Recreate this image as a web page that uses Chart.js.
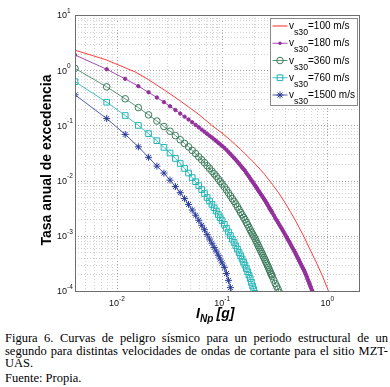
<!DOCTYPE html>
<html lang="es">
<head>
  <meta charset="UTF-8" />
  <title>Curvas de peligro sísmico</title>
  <script src="https://cdn.jsdelivr.net/npm/chart.js@4.4.1/dist/chart.umd.min.js"></script>
  <style>
    body {
      margin: 0;
      background: #fff;
      width: 390px;
      height: 387px;
      overflow: hidden;
      position: relative;
    }
    #chart { position: absolute; left: 0; top: 0; }
    .cap {
      position: absolute;
      left: 5px;
      width: 383px;
      font-family: 'Liberation Serif', 'Times New Roman', serif;
      font-size: 12.5px;
      line-height: 13px;
      color: #000;
    }
    .just { text-align: justify; text-align-last: justify; }
  </style>
</head>
<body>
  <canvas id="chart" width="390" height="325"></canvas>
  <div class="cap just" style="top:332px">Figura 6. Curvas de peligro sísmico para un periodo estructural de un</div>
  <div class="cap just" style="top:345px">segundo para distintas velocidades de ondas de cortante para el sitio MZT-</div>
  <div class="cap" style="top:357px">UAS.</div>
  <div class="cap" style="top:372px">Fuente: Propia.</div>

  <script>
    // intensity grid [g] shared by the marked curves
    const intensities = [
      0.004, 0.008, 0.012, 0.016, 0.020, 0.024, 0.028, 0.032, 0.036, 0.040,
      0.044, 0.048, 0.052, 0.056, 0.060, 0.064, 0.068, 0.072, 0.076, 0.080,
      0.084, 0.088, 0.092, 0.096, 0.100,
      0.105, 0.110, 0.115, 0.120, 0.125, 0.130, 0.135, 0.140, 0.145, 0.150,
      0.155, 0.160, 0.165, 0.170, 0.175, 0.180, 0.185, 0.190, 0.195, 0.200,
      0.205, 0.210, 0.215, 0.220, 0.225, 0.230, 0.235, 0.240, 0.245, 0.250,
      0.255, 0.260, 0.265, 0.270, 0.275, 0.280, 0.285, 0.290, 0.295, 0.300,
      0.31, 0.32, 0.33, 0.34, 0.35, 0.36, 0.37, 0.38, 0.39, 0.40,
      0.41, 0.42, 0.43, 0.44, 0.45, 0.46, 0.47, 0.48, 0.49, 0.50,
      0.51, 0.52, 0.53, 0.54, 0.55, 0.56, 0.57, 0.58, 0.59, 0.60,
      0.61, 0.62, 0.63, 0.64, 0.65, 0.66, 0.67, 0.68, 0.69, 0.70,
      0.71, 0.72
    ];

    // vs30 = 100 m/s (line only, own grid)
    const intensities100 = [0.004, 0.006, 0.008, 0.01, 0.015, 0.02, 0.03, 0.04, 0.05, 0.06,
      0.08, 0.1, 0.12, 0.15, 0.2, 0.25, 0.3, 0.35, 0.4, 0.45, 0.5, 0.6, 0.7, 0.8, 0.9, 1.0, 1.03];
    const rate100 = [2.30, 1.82, 1.53, 1.28, 0.925, 0.674, 0.405, 0.278, 0.204, 0.158,
      0.0999, 0.0724, 0.0541, 0.0367, 0.0214, 0.0134, 0.00858, 0.00574, 0.00386, 0.00264,
      0.00186, 0.000961, 0.000518, 0.000305, 0.000186, 0.000113, 0.0000975];

    const rate180 = [
      1.89, 1.04, 0.697, 0.514, 0.398, 0.320, 0.264, 0.222, 0.190, 0.164,
      0.144, 0.128, 0.114, 0.102, 0.0923, 0.0838, 0.0768, 0.0704, 0.0650, 0.0603,
      0.0559, 0.0521, 0.0485, 0.0454, 0.0424,
      0.0394, 0.0361, 0.0329, 0.0303, 0.0278, 0.0257, 0.0238, 0.0219, 0.0203, 0.0187,
      0.0173, 0.0161, 0.0151, 0.0138, 0.01275, 0.01183, 0.01093, 0.01013, 0.00944, 0.00883,
      0.00826, 0.00769, 0.00720, 0.00671, 0.00630, 0.00591, 0.00555, 0.00526, 0.00494, 0.00466,
      0.00441, 0.00415, 0.00391, 0.00367, 0.00346, 0.00325, 0.00307, 0.00291, 0.00277, 0.00261,
      0.00235, 0.00211, 0.00191, 0.00174, 0.00159, 0.00145, 0.00133, 0.00122, 0.00112, 0.00103,
      0.000945, 0.000870, 0.000804, 0.000745, 0.000686, 0.000636, 0.000590, 0.000552, 0.000512, 0.000475,
      0.000440, 0.000408, 0.000382, 0.000354, 0.000329, 0.000307, 0.000288, 0.000269, 0.000254, 0.000237,
      0.000222, 0.000207, 0.000192, 0.000178, 0.000163, 0.000153, 0.000142, 0.000132, 0.000122, 0.000115,
      0.000106, 0.0000996
    ];

    const rate360 = [
      1.08, 0.499, 0.303, 0.210, 0.155, 0.120, 0.0954, 0.0784, 0.0653, 0.0550,
      0.0471, 0.0409, 0.0352, 0.0308, 0.0269, 0.0238, 0.0211, 0.0186, 0.0166, 0.0148,
      0.0133, 0.0120, 0.0107, 0.00964, 0.00868,
      0.00769, 0.00679, 0.00596, 0.00528, 0.00470, 0.00420, 0.00374, 0.00334, 0.00298, 0.00265,
      0.00239, 0.00216, 0.00196, 0.00175, 0.00158, 0.00142, 0.00128, 0.00117, 0.00107, 0.000974,
      0.000892, 0.000810, 0.000736, 0.000669, 0.000612, 0.000561, 0.000514, 0.000475, 0.000435, 0.000402,
      0.000371, 0.000340, 0.000315, 0.000289, 0.000268, 0.000245, 0.000228, 0.000210, 0.000197, 0.000182,
      0.000158, 0.000137, 0.000122, 0.000108, 0.0000947
    ];

    const rate760 = [
      0.620, 0.263, 0.151, 0.0999, 0.0710, 0.0528, 0.0400, 0.0316, 0.0252, 0.0204,
      0.0166, 0.0137, 0.01135, 0.00956, 0.00812, 0.00687, 0.00584, 0.00494, 0.00427, 0.00370,
      0.00321, 0.00281, 0.00243, 0.00213, 0.00188,
      0.00161, 0.00137, 0.00117, 0.00101, 0.000870, 0.000758, 0.000657, 0.000573, 0.000497, 0.000433,
      0.000379, 0.000334, 0.000295, 0.000255, 0.000223, 0.000194, 0.000168, 0.000143, 0.000123, 0.000106,
      0.0000908
    ];

    const rate1500 = [
      0.359, 0.133, 0.0686, 0.0409, 0.0264, 0.0183, 0.0137, 0.0102, 0.00779, 0.00604,
      0.00472, 0.00370, 0.00293, 0.00236, 0.00191, 0.00155, 0.00129, 0.00105, 0.000873, 0.000733,
      0.000615, 0.000527, 0.000444, 0.000380, 0.000322,
      0.000268, 0.000207, 0.000156, 0.000115, 0.0000850
    ];

    const legendValues = ['=100 m/s', '=180 m/s', '=360 m/s', '=760 m/s', '=1500 m/s'];
    const xDecades = [0.001, 0.01, 0.1, 1];
    const yDecades = [0.0001, 0.001, 0.01, 0.1, 1, 10];
    const xTickExp = ['-2', '-1', '0'];
    const yTickExp = ['-4', '-3', '-2', '-1', '0', '1'];

    const FONT = "'Liberation Sans', Arial, sans-serif";

    const series = [
      { color: '#ff2626', line: '#ff2626', style: false, radius: 0, width: 0.9 },
      { color: '#93309c', line: '#a44aae', style: 'circle', radius: 1.7, fill: true, width: 1 },
      { color: '#3a7a5b', line: '#5b987a', style: 'circle', radius: 3.3, fill: false, width: 1 },
      { color: '#20b4b4', line: '#3bc0c0', style: 'rect', radius: 4, fill: false, width: 1 },
      { color: '#2c3c9c', line: '#4b5bab', style: 'star', radius: 3.5, fill: false, width: 1 }
    ];

    function toPoints(xs, ys) {
      return ys.map((y, i) => ({ x: xs[i], y: y }));
    }

    function isDecade(v) {
      const l = Math.log10(v);
      return Math.abs(l - Math.round(l)) < 1e-6;
    }

    function gridValues(decades, min, max) {
      const out = [];
      decades.forEach(d => {
        for (let m = 1; m < 10; m++) {
          const v = d * m;
          if (v > min * 1.0001 && v < max * 0.9999) out.push(v);
        }
      });
      return out;
    }

    function drawMarker(ctx, s, x, y) {
      ctx.save();
      ctx.strokeStyle = s.color;
      ctx.fillStyle = s.color;
      ctx.lineWidth = 1;
      ctx.beginPath();
      if (s.style === 'circle') {
        ctx.arc(x, y, s.radius, 0, Math.PI * 2);
        if (s.fill) ctx.fill(); else ctx.stroke();
      } else if (s.style === 'rect') {
        const h = s.radius * Math.SQRT1_2;
        ctx.rect(x - h, y - h, 2 * h, 2 * h);
        ctx.stroke();
      } else if (s.style === 'star') {
        const r = s.radius;
        const d = r * Math.SQRT1_2;
        ctx.moveTo(x - r, y); ctx.lineTo(x + r, y);
        ctx.moveTo(x, y - r); ctx.lineTo(x, y + r);
        ctx.moveTo(x - d, y - d); ctx.lineTo(x + d, y + d);
        ctx.moveTo(x - d, y + d); ctx.lineTo(x + d, y - d);
        ctx.stroke();
      }
      ctx.restore();
    }

    const matlabAxes = {
      id: 'matlabAxes',
      beforeDatasetsDraw(chart) {
        const { ctx, chartArea: a, scales: { x, y } } = chart;
        ctx.save();
        ctx.lineWidth = 1;
        ctx.setLineDash([1, 2]);
        gridValues(xDecades, x.min, x.max).forEach(v => {
          const px = Math.round(x.getPixelForValue(v)) + 0.5;
          ctx.strokeStyle = isDecade(v) ? '#a3a3a3' : '#d2d2d2';
          ctx.beginPath(); ctx.moveTo(px, a.top); ctx.lineTo(px, a.bottom); ctx.stroke();
        });
        gridValues(yDecades, y.min, y.max).forEach(v => {
          const py = Math.round(y.getPixelForValue(v)) + 0.5;
          ctx.strokeStyle = isDecade(v) ? '#a3a3a3' : '#d2d2d2';
          ctx.beginPath(); ctx.moveTo(a.left, py); ctx.lineTo(a.right, py); ctx.stroke();
        });
        ctx.restore();
      },
      afterDatasetsDraw(chart) {
        const { ctx, chartArea: a, scales: { x, y } } = chart;
        ctx.save();

        // box
        ctx.strokeStyle = '#6e6e6e';
        ctx.lineWidth = 1;
        ctx.strokeRect(Math.round(a.left) + 0.5, Math.round(a.top) + 0.5,
          Math.round(a.right - a.left), Math.round(a.bottom - a.top));

        // tick labels 10^n
        ctx.fillStyle = '#111';
        ctx.textBaseline = 'alphabetic';
        ctx.textAlign = 'left';
        [0.01, 0.1, 1].forEach((v, i) => {
          const px = x.getPixelForValue(v);
          ctx.font = '9px ' + FONT;
          const w10 = ctx.measureText('10').width;
          ctx.font = '6.5px ' + FONT;
          const we = ctx.measureText(xTickExp[i]).width;
          const start = px - (w10 + we) / 2;
          ctx.font = '9px ' + FONT;
          ctx.fillText('10', start, 306);
          ctx.font = '6.5px ' + FONT;
          ctx.fillText(xTickExp[i], start + w10, 300.5);
        });
        yDecades.forEach((v, i) => {
          const py = y.getPixelForValue(v);
          ctx.font = '9px ' + FONT;
          const w10 = ctx.measureText('10').width;
          ctx.fillText('10', 57, py + 3.3);
          ctx.font = '6.5px ' + FONT;
          ctx.fillText(yTickExp[i], 57 + w10, py - 2.2);
        });

        // x title: I_Np [g]
        ctx.fillStyle = '#000';
        ctx.font = 'italic bold 14px ' + FONT;
        ctx.fillText('I', 196, 318.3);
        ctx.font = 'italic bold 10px ' + FONT;
        ctx.fillText('Np', 200, 322);
        ctx.font = 'italic bold 14px ' + FONT;
        ctx.fillText('[g]', 216.5, 318.3);

        // y title
        ctx.save();
        ctx.translate(50.5, 160);
        ctx.rotate(-Math.PI / 2);
        ctx.textAlign = 'center';
        ctx.font = 'bold 14px ' + FONT;
        ctx.fillText('Tasa anual de excedencia', 0, 0);
        ctx.restore();

        // legend
        const lx = 270.5, ly = 18.5, lw = 87, lh = 87;
        ctx.fillStyle = '#fff';
        ctx.fillRect(lx, ly, lw, lh);
        ctx.strokeStyle = '#8a8a8a';
        ctx.strokeRect(lx, ly, lw, lh);
        series.forEach((s, i) => {
          const yc = 26 + i * 17.25;
          ctx.strokeStyle = s.line;
          ctx.lineWidth = 1;
          ctx.beginPath(); ctx.moveTo(272.5, yc); ctx.lineTo(287.5, yc); ctx.stroke();
          drawMarker(ctx, s, 280, yc);
          ctx.fillStyle = '#000';
          ctx.textAlign = 'left';
          ctx.font = '10px ' + FONT;
          ctx.fillText('v', 289, yc + 3);
          let cx = 289 + ctx.measureText('v').width;
          ctx.font = '8.7px ' + FONT;
          ctx.fillText('s30', cx, yc + 9);
          cx += ctx.measureText('s30').width;
          ctx.font = '10px ' + FONT;
          ctx.fillText(legendValues[i], cx, yc + 3);
        });
        ctx.restore();
      }
    };

    const dataSets = [
      toPoints(intensities100, rate100),
      toPoints(intensities, rate180),
      toPoints(intensities, rate360),
      toPoints(intensities, rate760),
      toPoints(intensities, rate1500)
    ];

    new Chart(document.getElementById('chart'), {
      type: 'line',
      data: {
        datasets: series.map((s, i) => ({
          label: 'vs30' + legendValues[i],
          data: dataSets[i],
          borderColor: s.line,
          borderWidth: s.width,
          pointStyle: s.style,
          pointRadius: s.radius,
          pointBorderWidth: 1,
          pointBorderColor: s.color,
          pointBackgroundColor: s.fill ? s.color : 'rgba(0,0,0,0)',
          fill: false,
          tension: 0,
          order: i
        }))
      },
      options: {
        responsive: false,
        animation: false,
        events: [],
        layout: { padding: { left: 75, right: 31, top: 15, bottom: 34 } },
        plugins: { legend: { display: false }, tooltip: { enabled: false } },
        scales: {
          x: { type: 'logarithmic', min: 0.004, max: 2, display: false },
          y: { type: 'logarithmic', min: 0.0001, max: 10, display: false }
        }
      },
      plugins: [matlabAxes]
    });
  </script>
</body>
</html>
